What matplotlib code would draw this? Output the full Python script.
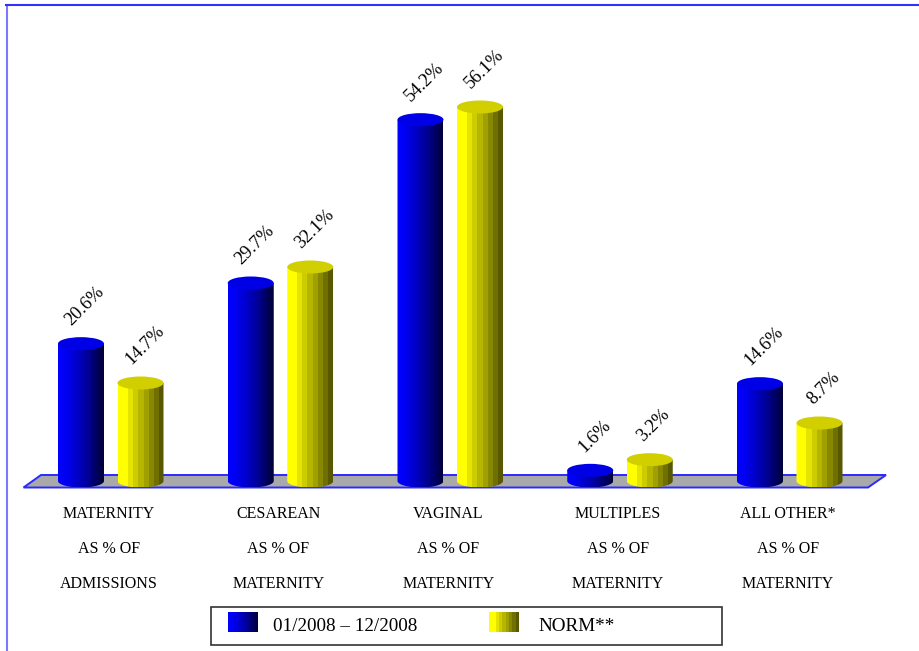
import numpy as np
import matplotlib
matplotlib.use("Agg")
import matplotlib.pyplot as plt
from matplotlib.patches import Ellipse, PathPatch, Polygon, Rectangle
from matplotlib.path import Path
from matplotlib.colors import ListedColormap

categories = ["MATERNITY\nAS % OF\nADMISSIONS", "CESAREAN\nAS % OF\nMATERNITY", "VAGINAL\nAS % OF\nMATERNITY",
              "MULTIPLES\nAS % OF\nMATERNITY", "ALL OTHER*\nAS % OF\nMATERNITY"]
period_values = [20.6, 29.7, 54.2, 1.6, 14.6]
norm_values = [14.7, 32.1, 56.1, 3.2, 8.7]
series_names = ["01/2008 \u2013 12/2008", "NORM**"]

W, H = 919, 651
fig = plt.figure(figsize=(W / 100, H / 100), dpi=100)
plt.rcParams["font.family"] = ["Liberation Serif"]
ax = fig.add_axes([0, 0, 1, 1])
ax.axis("off")

# one x unit is one category group, y is in percent
per_x = 169.75
per_y = 6.667
x0 = 110.75
base = 481.0
xlim = (-x0 / per_x, (W - x0) / per_x)
ylim = ((base - H) / per_y, base / per_y)


def px(x):
    return (x - x0) / per_x


def py(y):
    return (base - y) / per_y


blue_cols = np.array([[0, 0, v] for v in 255 - 195 * np.linspace(0, 1, 24) ** 1.4]) / 255
yellow_cols = np.array([[v, v, 0] for v in [255, 255, 228, 204, 182, 160, 136, 112, 88]]) / 255
blue_top = "#0000e6"
yellow_top = "#d2cf00"

half_w = 23 / per_x
ry = 6.5 / per_y


def cylinder(xc, val, cols, top_col):
    t = np.linspace(np.pi, 2 * np.pi, 40)
    xs = xc + half_w * np.cos(t)
    ys = ry * np.sin(t)
    verts = list(zip(xs, ys)) + [(xc + half_w, val), (xc - half_w, val), (xc - half_w, 0)]
    clip = PathPatch(Path(verts), transform=ax.transData, fc="none", ec="none")
    ax.add_patch(clip)
    im = ax.imshow(np.arange(len(cols))[None, :], cmap=ListedColormap(cols), aspect="auto",
                   extent=[xc - half_w, xc + half_w, -ry, val], zorder=3, interpolation="nearest")
    im.set_clip_path(clip)
    ax.add_patch(Ellipse((xc, val), 2 * half_w, 2 * ry, fc=top_col, ec="none", zorder=4))


# grey floor
floor = [(px(23.5), py(487.5)), (px(41), py(475)), (px(886), py(475)), (px(868), py(487.5))]
ax.add_patch(Polygon(floor, closed=True, fc="#a9a9a9", ec="#2a2aff", lw=1.4, zorder=1))

off = 29.75 / per_x
for i in range(len(categories)):
    cylinder(i - off, period_values[i], blue_cols, blue_top)
    cylinder(i + off, norm_values[i], yellow_cols, yellow_top)
    ax.text(i - off + 4 / per_x, period_values[i] + 15 / per_y, "%.1f%%" % period_values[i], rotation=45,
            ha="center", va="bottom", fontsize=13.2, color="black", zorder=5)
    ax.text(i + off + 4 / per_x, norm_values[i] + 15 / per_y, "%.1f%%" % norm_values[i], rotation=45,
            ha="center", va="bottom", fontsize=13.2, color="black", zorder=5)
    for j, line in enumerate(categories[i].split("\n")):
        ax.text(i - 2 / per_x, py(514.5 + j * 34.5), line, ha="center", va="center", fontsize=11.5)

# outer frame
ax.plot([px(6.5), px(6.5)], [py(H), py(4.5)], color="#7a7aff", lw=1.5, zorder=0)
ax.plot([px(6), px(W)], [py(4.5), py(4.5)], color="#3030ff", lw=1.5, zorder=0)

# legend box
ax.add_patch(Rectangle((px(210.5), py(645)), 512 / per_x, 38 / per_y, fc="white", ec="#333333", lw=1.2, zorder=2))
for sw_x, cols, name, tx in [(228, blue_cols, series_names[0], 273), (489, yellow_cols, series_names[1], 538.5)]:
    ax.imshow(np.arange(len(cols))[None, :], cmap=ListedColormap(cols), aspect="auto",
              extent=[px(sw_x), px(sw_x + 29), py(632), py(612)], zorder=3, interpolation="nearest")
    ax.text(px(tx), py(626.5), name, ha="left", va="center", fontsize=13.8, zorder=3)

ax.set_xlim(*xlim)
ax.set_ylim(*ylim)

fig.savefig("out.png", dpi=100)
